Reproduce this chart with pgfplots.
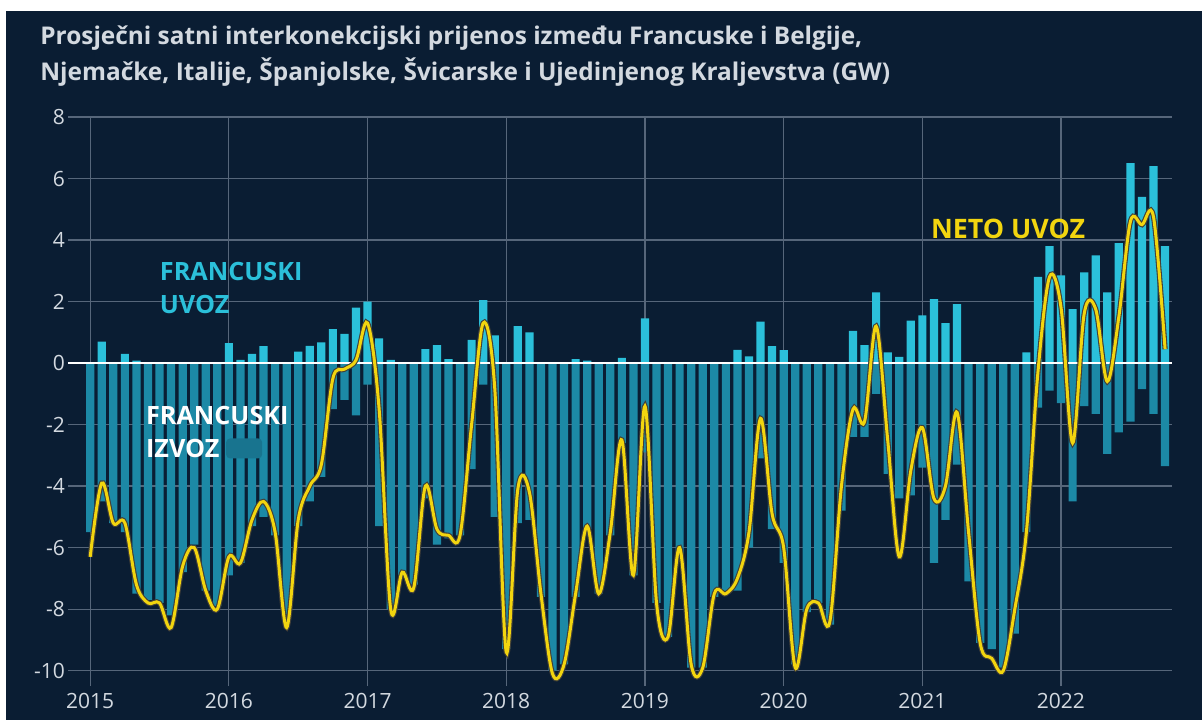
\documentclass[border=0pt]{standalone}
\usepackage{pgfplots}
\pgfplotsset{compat=1.18}
\usepackage{pgfplotstable}
\usepackage{fontspec}
\setmainfont{Open Sans}

\definecolor{bg}{HTML}{0A1D33}
\definecolor{uvoz}{HTML}{2BC0DA}
\definecolor{izvoz}{HTML}{1C89A6}
\definecolor{neto}{HTML}{F2D50F}
\definecolor{gridc}{HTML}{56667A}
\definecolor{txt}{HTML}{D3D9E0}

% month index (0 = Jan 2015), imports, exports, net imports (GW)
\pgfplotstableread{
m imp exp net
0 0 -5.5 -6.3
1 0.7 -4.5 -3.9
2 0 -5.2 -5.2
3 0.3 -5.5 -5.2
4 0.08 -7.5 -7.2
5 0 -7.7 -7.8
6 0 -7.8 -7.8
7 0 -8.2 -8.6
8 0 -6.8 -6.6
9 0 -5.9 -6.0
10 0 -7.4 -7.4
11 0 -7.9 -8.0
12 0.65 -6.9 -6.3
13 0.1 -6.5 -6.5
14 0.3 -5.3 -5.1
15 0.55 -5.0 -4.5
16 0 -5.6 -5.5
17 0 -8.4 -8.6
18 0.37 -5.3 -5.1
19 0.56 -4.5 -4.0
20 0.67 -3.7 -3.3
21 1.1 -1.5 -0.5
22 0.95 -1.2 -0.2
23 1.8 -1.7 0.1
24 2.0 -0.7 1.3
25 0.8 -5.3 -1.5
26 0.1 -8.0 -8.0
27 0 -6.9 -6.8
28 0 -7.2 -7.3
29 0.45 -4.4 -4.0
30 0.58 -5.9 -5.4
31 0.13 -5.7 -5.6
32 0 -5.6 -5.6
33 0.75 -3.45 -2.0
34 2.05 -0.7 1.3
35 0.9 -5.0 -0.8
36 0 -9.3 -9.4
37 1.2 -5.2 -4.1
38 1.0 -5.1 -4.2
39 0 -7.6 -7.5
40 0 -10.0 -10.1
41 0 -9.8 -9.8
42 0.13 -7.6 -7.5
43 0.08 -5.4 -5.3
44 0 -7.5 -7.5
45 0 -5.6 -5.5
46 0.17 -2.6 -2.5
47 0 -6.9 -6.9
48 1.45 -2.9 -1.4
49 0 -7.8 -7.8
50 0 -8.9 -8.9
51 0 -6.2 -6.0
52 0 -9.9 -9.8
53 0 -9.9 -9.9
54 0 -7.6 -7.5
55 0 -7.5 -7.5
56 0.43 -7.4 -7.0
57 0.22 -6.0 -5.5
58 1.35 -3.1 -1.8
59 0.55 -5.4 -4.9
60 0.42 -6.5 -6.0
61 0 -9.8 -9.9
62 0 -8.1 -8.0
63 0 -7.8 -7.8
64 0 -8.5 -8.4
65 0 -4.8 -4.0
66 1.05 -2.4 -1.5
67 0.58 -2.4 -1.9
68 2.3 -1.0 1.2
69 0.35 -3.6 -2.5
70 0.2 -4.4 -6.3
71 1.38 -4.3 -3.5
72 1.55 -3.4 -2.1
73 2.08 -6.5 -4.4
74 1.3 -5.1 -4.0
75 1.92 -3.3 -1.6
76 0 -7.1 -5.5
77 0 -9.1 -9.1
78 0 -9.3 -9.6
79 0 -9.9 -10.0
80 0 -8.8 -8.0
81 0.35 -5.5 -5.5
82 2.8 -1.45 -0.3
83 3.8 -0.9 2.8
84 2.85 -1.3 1.8
85 1.75 -4.5 -2.6
86 2.95 -1.4 1.6
87 3.5 -1.65 1.75
88 2.3 -2.95 -0.6
89 3.9 -2.25 1.5
90 6.5 -1.9 4.6
91 5.4 -0.85 4.5
92 6.4 -1.65 4.75
93 3.8 -3.35 0.45
}\flows

\begin{document}
\begin{tikzpicture}
% page: 1202 x 720 px at 0.5pt per px, axis south west at px (68,686)
\fill[white] (-34pt,-17pt) rectangle (567pt,343pt);
\fill[bg] (-31pt,-17pt) rectangle (567pt,337.5pt);
\node[anchor=west, inner sep=0pt, text=txt, font=\bfseries\fontsize{12.2}{14}\selectfont]
  at (-14pt,324pt) {Prosječni satni interkonekcijski prijenos između Francuske i Belgije,};
\node[anchor=west, inner sep=0pt, text=txt, font=\bfseries\fontsize{12.2}{14}\selectfont]
  at (-14pt,307pt) {Njemačke, Italije, Španjolske, Švicarske i Ujedinjenog Kraljevstva (GW)};
\begin{axis}[
    at={(0,0)}, anchor=south west,
    scale only axis,
    width=552pt, height=284.5pt,
    xmin=2014.84, xmax=2022.80,
    ymin=-10.5, ymax=8,
    axis line style={draw=none},
    tick style={draw=none},
    xtick={2015,...,2022},
    ytick={-10,-8,...,8},
    xticklabel style={/pgf/number format/1000 sep=},
    ticklabel style={text=txt, font=\fontsize{10.5}{12}\selectfont},
    /pgf/number format/assume math mode=true,
    xticklabel shift=0pt,
    yticklabel shift=-2pt,
    xmajorgrids, ymajorgrids,
    grid style={gridc, line width=0.6pt},
    clip=false,
]
\addplot[ybar, bar width=4.1pt, bar shift=0pt, fill=izvoz, draw=none]
  table[x expr=2015+\thisrow{m}/12, y=exp] {\flows};
\addplot[ybar, bar width=4.1pt, bar shift=0pt, fill=uvoz, draw=none]
  table[x expr=2015+\thisrow{m}/12, y=imp] {\flows};
\draw[white, line width=0.8pt] (axis cs:2014.84,0) -- (axis cs:2022.80,0);
\addplot[draw=black!85!yellow, line width=2.6pt, smooth, tension=0.55, no markers]
  table[x expr=2015+\thisrow{m}/12, y=net] {\flows};
\addplot[draw=neto, line width=1.5pt, smooth, tension=0.55, no markers]
  table[x expr=2015+\thisrow{m}/12, y=net] {\flows};
\node[anchor=west, inner sep=0pt, text=uvoz, font=\bfseries\fontsize{12.6}{16.5}\selectfont, align=left]
  at (axis cs:2015.5,2.45) {FRANCUSKI\\UVOZ};
\fill[izvoz!80!bg, rounded corners=2pt] (axis cs:2015.98,-2.45) rectangle (axis cs:2016.24,-3.1);
\node[anchor=west, inner sep=0pt, text=white, font=\bfseries\fontsize{12.6}{16.5}\selectfont, align=left]
  at (axis cs:2015.4,-2.23) {FRANCUSKI\\IZVOZ};
\node[anchor=west, inner sep=0pt, text=neto, font=\bfseries\fontsize{13.4}{15}\selectfont]
  at (axis cs:2021.06,4.36) {NETO UVOZ};
\end{axis}
\end{tikzpicture}
\end{document}
